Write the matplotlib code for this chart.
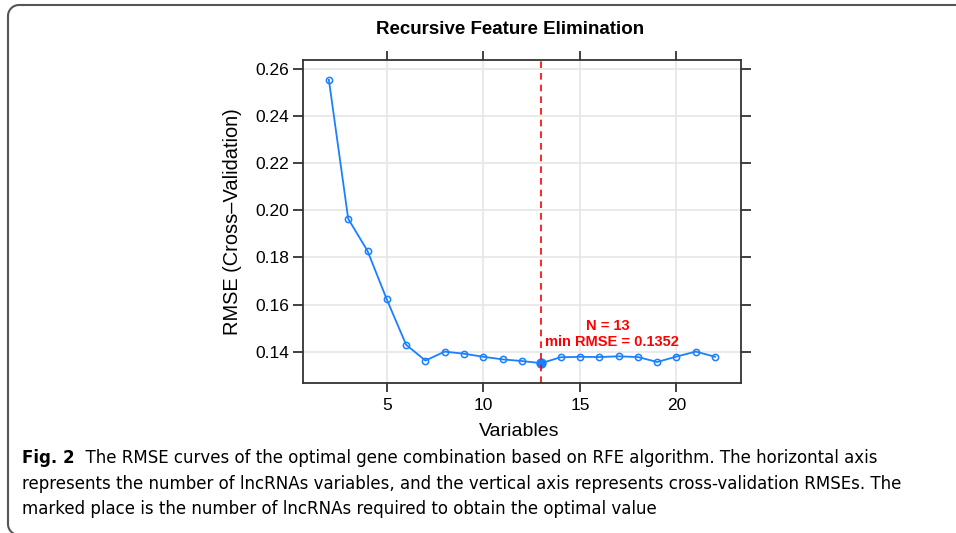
import matplotlib
matplotlib.use('Agg')
import numpy as np
import matplotlib.pyplot as plt
from matplotlib.lines import Line2D

plt.rcParams['font.family'] = ['Liberation Sans', 'DejaVu Sans']

# values
variables = [2, 3, 4, 5, 6, 7, 8, 9, 10, 11, 12, 13, 14, 15, 16, 17, 18, 19, 20, 21, 22]
rmse = [0.2553, 0.1964, 0.1828, 0.1622, 0.1430, 0.1363, 0.1401, 0.1392, 0.1379, 0.1368,
        0.1361, 0.1352, 0.1377, 0.1379, 0.1378, 0.1381, 0.1378, 0.1357, 0.1380, 0.1401, 0.1379]
best_n = 13
best_rmse = 0.1352
x_ticks = [5, 10, 15, 20]
y_ticks = [0.14, 0.16, 0.18, 0.20, 0.22, 0.24, 0.26]

title = 'Recursive Feature Elimination'
caption_bold = 'Fig. 2'
caption_lines = [
    '  The RMSE curves of the optimal gene combination based on RFE algorithm. The horizontal axis',
    'represents the number of lncRNAs variables, and the vertical axis represents cross-validation RMSEs. The',
    'marked place is the number of lncRNAs required to obtain the optimal value',
]

blue = '#1a80ff'
red = '#ff0000'
W, H = 956, 533

fig = plt.figure(figsize=(W / 100, H / 100), dpi=100)
ax = fig.add_axes([303 / W, 150 / H, 438 / W, 323 / H])

ax.grid(True, color='#e6e6e6', lw=1.2)
ax.set_axisbelow(True)
ax.plot(variables, rmse, '-o', color=blue, lw=1.3, ms=4.5, mfc='none', mew=1.1)
ax.plot([best_n], [best_rmse], 'o', color=blue, ms=6.5)
ax.axvline(best_n, color=red, ls=(0, (4, 3)), lw=1.2)
ax.text(16.45, 0.1511, 'N = %d' % best_n, color=red,
        fontsize=10.5, fontweight='bold', ha='center', va='center')
ax.text(16.65, 0.1440, 'min RMSE = %.4f' % best_rmse, color=red,
        fontsize=10.5, fontweight='bold', ha='center', va='center')

span_x = max(variables) - min(variables)
ax.set_xlim(min(variables) - 0.067 * span_x, max(variables) + 0.067 * span_x)
span_y = max(rmse) - min(rmse)
ax.set_ylim(min(rmse) - 0.07 * span_y, max(rmse) + 0.07 * span_y)
ax.set_xticks(x_ticks)
ax.set_yticks(y_ticks)
ax.set_yticklabels(['%.2f' % v for v in y_ticks])
ax.tick_params(direction='out', width=1.3, labelsize=12.5, color='#333333',
               top=True, right=True, labeltop=False, labelright=False)
ax.tick_params(axis='x', length=6.5, pad=4)
ax.tick_params(axis='y', length=7, pad=3)
for s in ax.spines.values():
    s.set_color('#333333')
    s.set_linewidth(1.3)
ax.set_xlabel('Variables', fontsize=14)
ax.set_ylabel('RMSE (Cross\u2013Validation)', fontsize=14.4)
ax.xaxis.set_label_coords((519 - 303) / 438, (383 - 432) / 323)
ax.xaxis.label.set_va('center')
ax.yaxis.set_label_coords((233 - 303) / 438, 0.5)
ax.yaxis.label.set_va('center')

fig.text(510 / W, 1 - 29 / H, title, ha='center', va='center',
         fontsize=13.5, fontweight='bold')

# caption
cap_font = ['DejaVu Sans']
t = fig.text(22 / W, 1 - 458 / H, caption_bold, ha='left', va='center',
             fontsize=12, fontweight='bold', family=cap_font)
fig.canvas.draw()
bb = t.get_window_extent()
fig.text(bb.x1 / W, 1 - 458 / H, caption_lines[0], ha='left', va='center',
         fontsize=12, family=cap_font)
fig.text(22 / W, 1 - 484 / H, caption_lines[1], ha='left', va='center',
         fontsize=12, family=cap_font)
fig.text(22 / W, 1 - 509 / H, caption_lines[2], ha='left', va='center',
         fontsize=12, family=cap_font)

# rounded frame: top and left edges, the rest runs off the picture
r = 11
left, top, bottom = 8, 5, 535
a = np.linspace(0, np.pi / 2, 20)
px = np.concatenate([[W + 5], left + r - r * np.sin(a), left + r - r * np.cos(a), [W + 5]])
py = np.concatenate([[top], top + r - r * np.cos(a), bottom - r + r * np.sin(a), [bottom]])
fig.add_artist(Line2D(px / W, 1 - py / H, transform=fig.transFigure,
                      color='#555555', lw=1.5))

fig.savefig('out.png', dpi=100)
